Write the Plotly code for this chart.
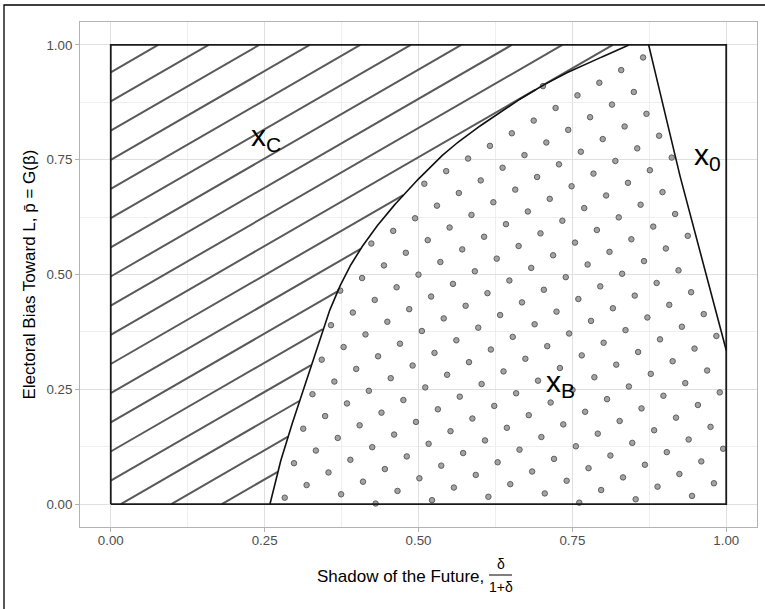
import numpy as np
import plotly.graph_objects as go

# ---------------- data ----------------
# boundary between region x_C (hatched) and x_B (dotted): x as a function of y
curve_y = [0.0, 0.0696, 0.2274, 0.4951, 0.7497, 0.8716, 0.9238, 1.0]
curve_x = [0.2587, 0.2711, 0.3076, 0.3797, 0.5310, 0.6531, 0.7181, 0.8418]
# boundary between x_B and x_0
line0_y = [0.335, 0.6627, 1.0]
line0_x = [1.0, 0.9346, 0.874]

tick_vals = [0.0, 0.25, 0.50, 0.75, 1.00]
tick_text = ["0.00", "0.25", "0.50", "0.75", "1.00"]
minor_vals = [0.125, 0.375, 0.625, 0.875]

region_labels = ["x<sub>C</sub>", "x<sub>B</sub>", "x<sub>0</sub>"]
label_x = [0.253, 0.73, 0.97]
label_y = [0.798, 0.262, 0.757]

# ---------------- layout geometry ----------------
W, H = 765, 609
ML, MR, MT, MB = 80, 8, 22, 82
XR = [-0.05, 1.05]
YR = [-0.05, 1.05]
PW, PH = W - ML - MR, H - MT - MB
kx = PW / (XR[1] - XR[0])
ky = PH / (YR[1] - YR[0])
FONT = "Liberation Sans, Arial, Helvetica, sans-serif"


def pchip(xk, yk, xq):
    xk = np.asarray(xk, float); yk = np.asarray(yk, float); xq = np.asarray(xq, float)
    h = np.diff(xk); d = np.diff(yk) / h
    n = len(xk); m = np.zeros(n)
    for k in range(1, n - 1):
        if d[k - 1] * d[k] > 0:
            w1 = 2 * h[k] + h[k - 1]; w2 = h[k] + 2 * h[k - 1]
            m[k] = (w1 + w2) / (w1 / d[k - 1] + w2 / d[k])
    m[0] = d[0]; m[-1] = d[-1]
    idx = np.clip(np.searchsorted(xk, xq) - 1, 0, n - 2)
    t = (xq - xk[idx]) / h[idx]
    h00 = 2 * t**3 - 3 * t**2 + 1; h10 = t**3 - 2 * t**2 + t
    h01 = -2 * t**3 + 3 * t**2; h11 = t**3 - t**2
    return h00 * yk[idx] + h10 * h[idx] * m[idx] + h01 * yk[idx + 1] + h11 * h[idx] * m[idx + 1]


def cb_x(y):
    return pchip(curve_y, curve_x, y)


def b0_x(y):
    y = np.asarray(y, float)
    return np.where(y < line0_y[0], 1.0,
                    np.minimum(1.0, pchip(line0_y, line0_x, np.clip(y, line0_y[0], 1.0))))


# ---------------- hatch pattern (30 degrees) for x_C ----------------
ang = np.deg2rad(30)
sp = 25.26
u0 = 0.0163 * kx
yy = np.linspace(0, 1, 4001)
cyy = cb_x(yy)
hx, hy = [], []
N = len(yy)
for k in range(-25, 20):
    c = -np.sin(ang) * u0 - k * sp
    xl = (np.cos(ang) * yy * ky - c) / np.sin(ang) / kx
    g = np.minimum(xl, cyy - xl)
    ins = g >= 0
    i = 0
    while i < N:
        if ins[i]:
            j = i
            while j + 1 < N and ins[j + 1]:
                j += 1
            if i > 0:
                t = g[i - 1] / (g[i - 1] - g[i]); ys0 = yy[i - 1] + t * (yy[i] - yy[i - 1])
            else:
                ys0 = yy[i]
            if j < N - 1:
                t = g[j] / (g[j] - g[j + 1]); ys1 = yy[j] + t * (yy[j + 1] - yy[j])
            else:
                ys1 = yy[j]
            xs0 = (np.cos(ang) * ys0 * ky - c) / np.sin(ang) / kx
            xs1 = (np.cos(ang) * ys1 * ky - c) / np.sin(ang) / kx
            hx += [xs0, xs1, None]; hy += [ys0, ys1, None]
            i = j + 1
        else:
            i += 1

# ---------------- dot pattern for x_B ----------------
ua, wa = 0.530 * kx, 0.650 * ky
dx_, dy_ = [], []
for n in range(-50, 51):
    for m in range(-50, 51):
        u = ua + sp * (n * np.cos(ang) - m * np.sin(ang))
        w = wa + sp * (n * np.sin(ang) + m * np.cos(ang))
        x, y = u / kx, w / ky
        if 0 <= y <= 1 and 0 <= x <= 1:
            if x >= cb_x(y) + 0.002 and x <= b0_x(y) - 0.002:
                dx_.append(x); dy_.append(y)

fig = go.Figure()
fig.add_trace(go.Scatter(x=hx, y=hy, mode="lines", line=dict(color="#595959", width=2),
                         hoverinfo="skip", showlegend=False))
fig.add_trace(go.Scatter(x=dx_, y=dy_, mode="markers",
                         marker=dict(size=5.5, color="#a3a3a3", line=dict(color="#555555", width=0.9)),
                         hoverinfo="skip", showlegend=False))
fig.add_trace(go.Scatter(x=[0, 1, 1, 0, 0], y=[0, 0, 1, 1, 0], mode="lines",
                         line=dict(color="#1a1a1a", width=1.8), hoverinfo="skip", showlegend=False))
ycur = np.linspace(0, 1, 400)
fig.add_trace(go.Scatter(x=cb_x(ycur), y=ycur, mode="lines", line=dict(color="#111111", width=1.6),
                         hoverinfo="skip", showlegend=False))
yl0 = np.linspace(line0_y[0], 1, 200)
fig.add_trace(go.Scatter(x=pchip(line0_y, line0_x, yl0), y=yl0, mode="lines",
                         line=dict(color="#111111", width=1.6), hoverinfo="skip", showlegend=False))

for t, x, y in zip(region_labels, label_x, label_y):
    fig.add_annotation(x=x, y=y, xref="x", yref="y", text=t, showarrow=False,
                       font=dict(family=FONT, size=30, color="black"))


def px2paper_x(px):
    return (px - ML) / PW


def px2paper_y(py):
    return (H - MB - py) / PH


fig.add_annotation(x=px2paper_x(29), y=0.5, xref="paper", yref="paper", textangle=-90,
                   xanchor="center", yanchor="middle",
                   text="Electoral Bias Toward L, p\u0304 = G(\u03b2)", showarrow=False,
                   font=dict(family=FONT, size=17, color="black"))
fig.add_annotation(x=px2paper_x(486), y=px2paper_y(576), xref="paper", yref="paper",
                   xanchor="right", yanchor="middle", text="Shadow of the Future,", showarrow=False,
                   font=dict(family=FONT, size=17, color="black"))
fig.add_annotation(x=px2paper_x(500.5), y=px2paper_y(564), xref="paper", yref="paper",
                   xanchor="center", yanchor="middle", text="\u03b4", showarrow=False,
                   font=dict(family=FONT, size=14, color="black"))
fig.add_annotation(x=px2paper_x(500.5), y=px2paper_y(587), xref="paper", yref="paper",
                   xanchor="center", yanchor="middle", text="1+\u03b4", showarrow=False,
                   font=dict(family=FONT, size=14, color="black"))
fig.add_shape(type="line", xref="paper", yref="paper", x0=px2paper_x(489), x1=px2paper_x(512),
              y0=px2paper_y(575), y1=px2paper_y(575), line=dict(color="black", width=1))
fig.add_shape(type="rect", xref="paper", yref="paper", x0=px2paper_x(4), x1=px2paper_x(775),
              y0=px2paper_y(620), y1=px2paper_y(5), line=dict(color="black", width=1.3))

axis_common = dict(
    tickvals=tick_vals, ticktext=tick_text, showgrid=True, gridcolor="#e0e0e0", gridwidth=1,
    minor=dict(tickvals=minor_vals, showgrid=True, gridcolor="#eeeeee", gridwidth=0.7),
    showline=True, mirror=True, linecolor="#b3b3b3", linewidth=1, zeroline=False,
    ticks="outside", ticklen=4, tickcolor="#b3b3b3", tickwidth=1,
    tickfont=dict(family=FONT, size=13.3, color="#4d4d4d"),
)
fig.update_layout(
    width=W, height=H, margin=dict(l=ML, r=MR, t=MT, b=MB),
    paper_bgcolor="white", plot_bgcolor="white",
    xaxis=dict(range=XR, ticklabelstandoff=-3, **axis_common),
    yaxis=dict(range=YR, **axis_common),
    showlegend=False,
)
fig.write_html("out.html", config={"displayModeBar": False},
               post_script="document.body.style.margin='0px';")
